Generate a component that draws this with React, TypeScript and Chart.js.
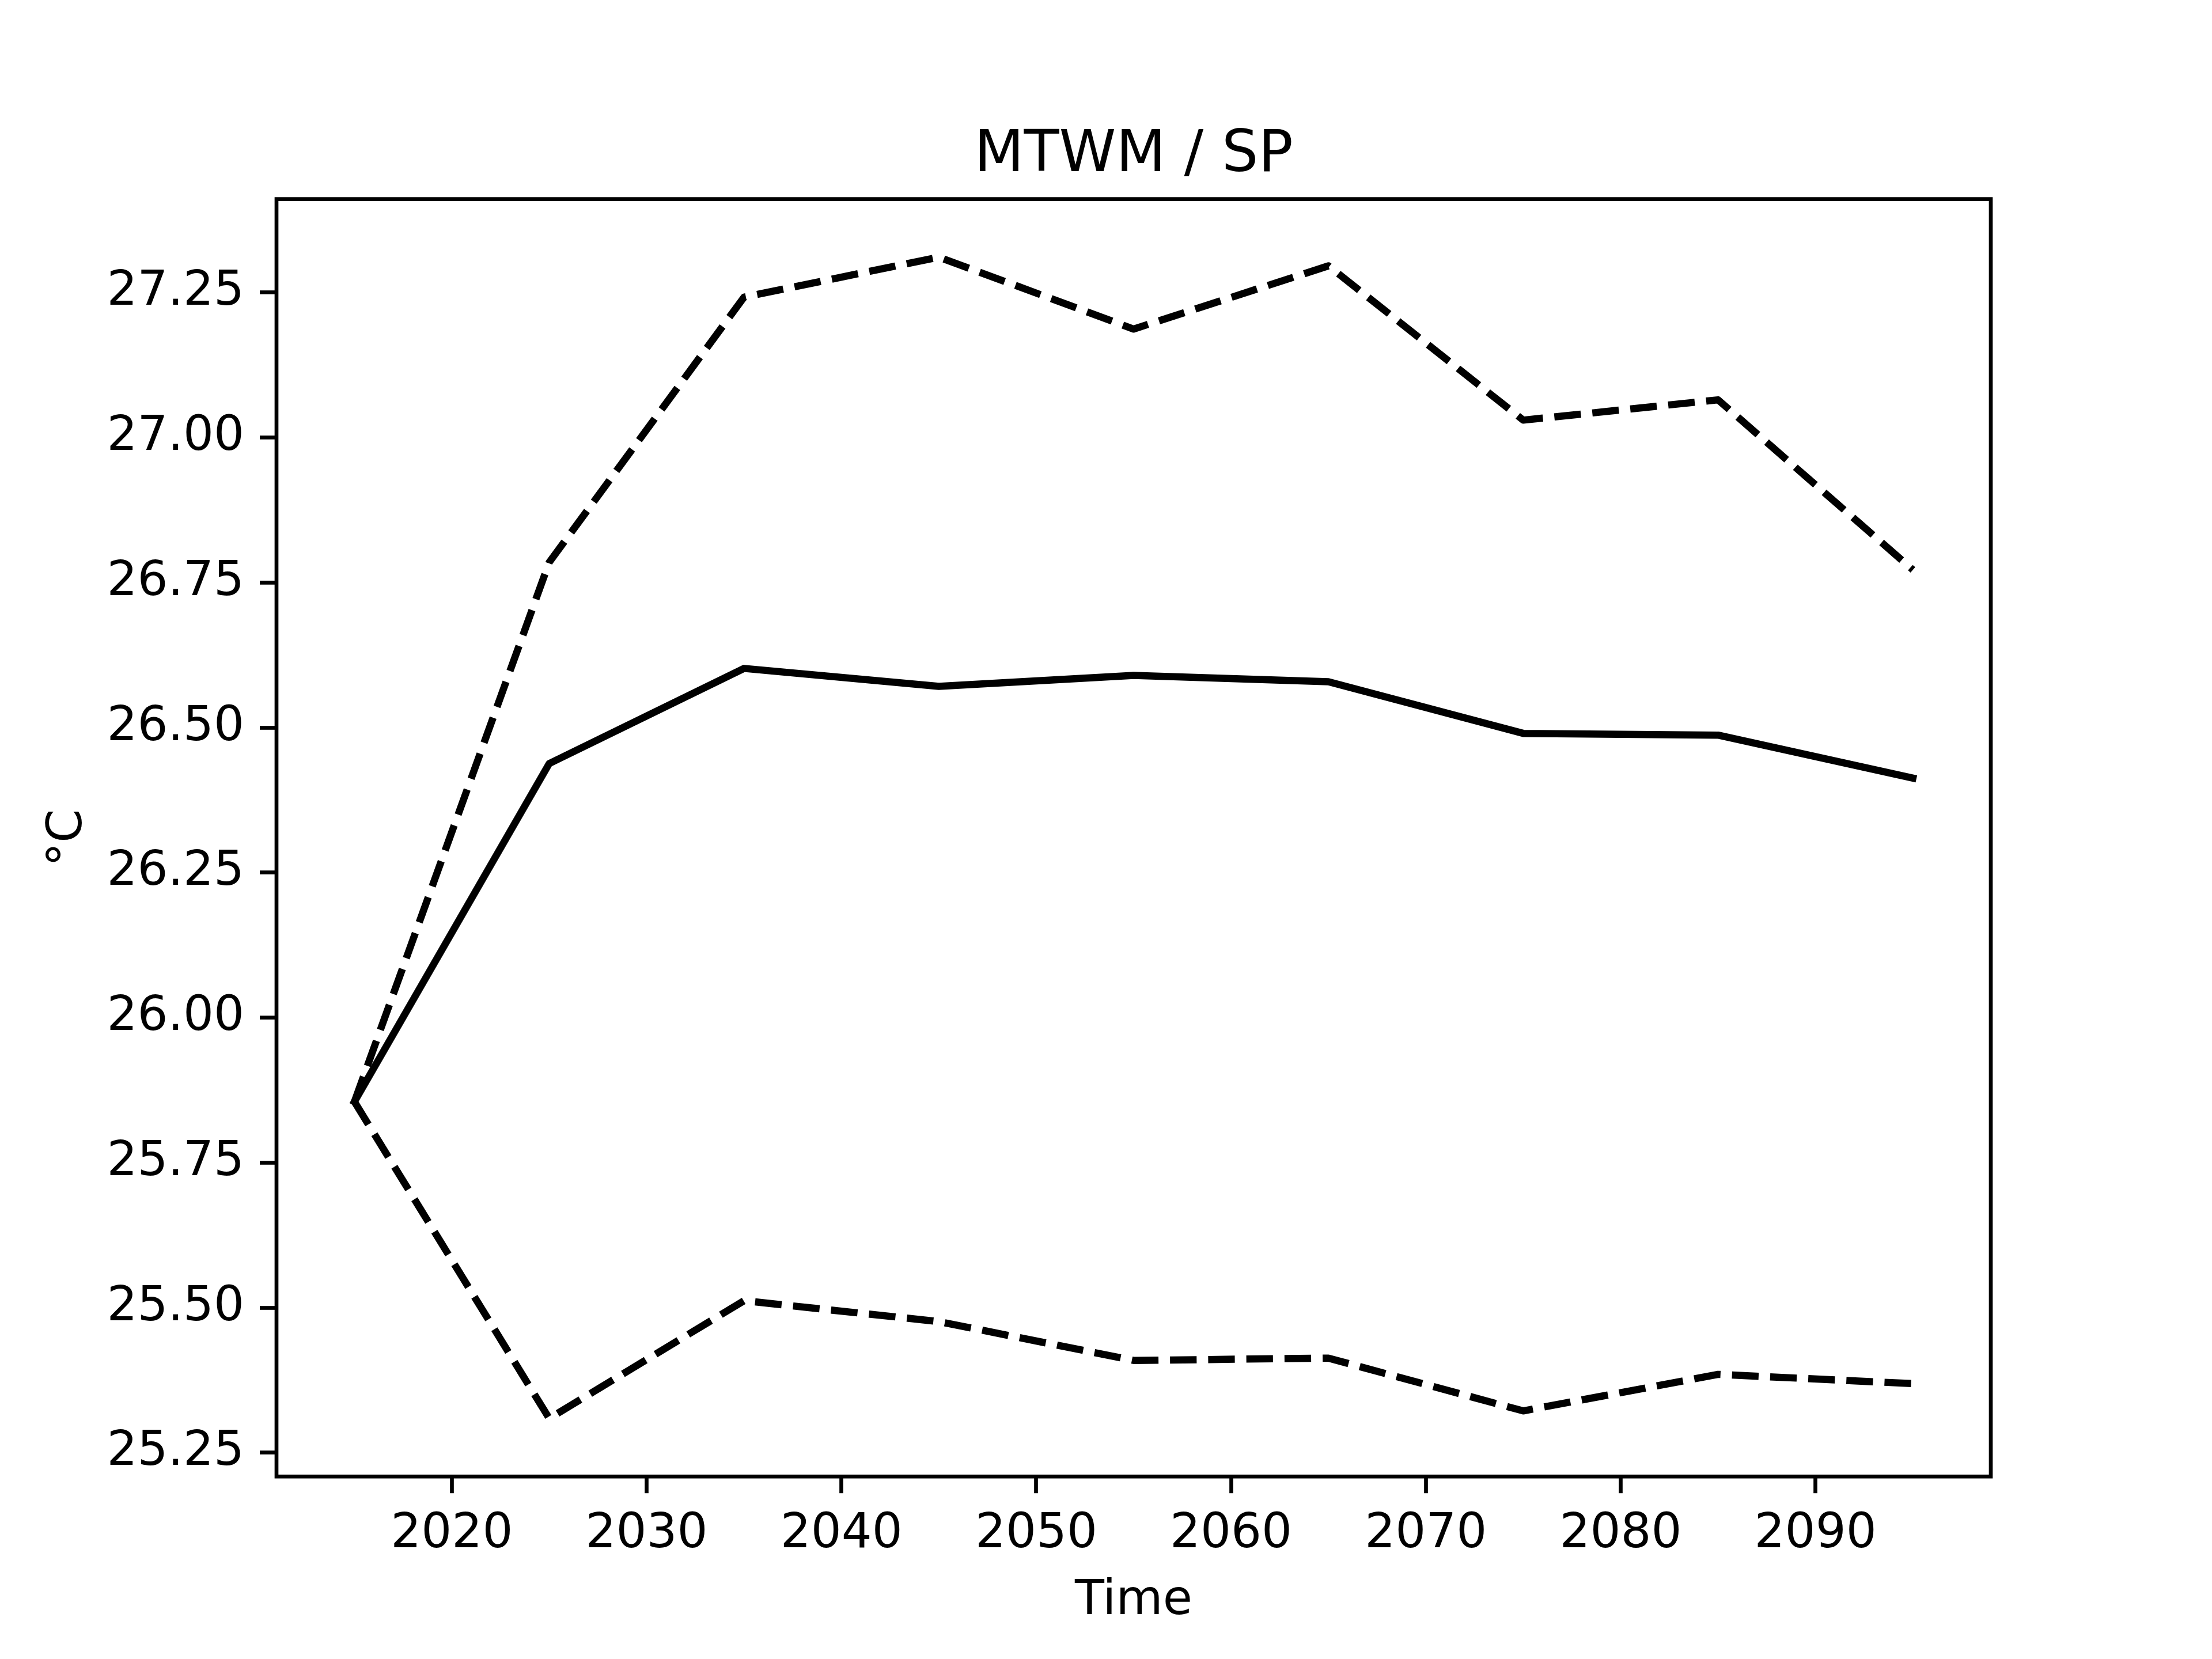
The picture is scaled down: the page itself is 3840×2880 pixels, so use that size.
import React, { useEffect, useRef } from "react";
import { Chart, registerables } from "chart.js";

Chart.register(...registerables);

// ---- data ----
const years = [2015, 2025, 2035, 2045, 2055, 2065, 2075, 2085, 2095];
const meanValues = [25.855, 26.438, 26.602, 26.571, 26.59, 26.579, 26.49, 26.487, 26.413];
const upperValues = [25.855, 26.785, 27.242, 27.311, 27.187, 27.296, 27.03, 27.065, 26.772];
const lowerValues = [25.855, 25.309, 25.512, 25.476, 25.409, 25.413, 25.322, 25.385, 25.369];

const xTickValues = [2020, 2030, 2040, 2050, 2060, 2070, 2080, 2090];
const yTickValues = [25.25, 25.5, 25.75, 26.0, 26.25, 26.5, 26.75, 27.0, 27.25];

const titleText = "MTWM / SP";
const xLabelText = "Time";
const yLabelText = "°C";

// matplotlib-style 5% margins
const allY = [...meanValues, ...upperValues, ...lowerValues];
const yDataMin = Math.min(...allY);
const yDataMax = Math.max(...allY);
const yPad = (yDataMax - yDataMin) * 0.05;
const xDataMin = Math.min(...years);
const xDataMax = Math.max(...years);
const xPad = (xDataMax - xDataMin) * 0.05;

const FONT = "'DejaVu Sans', sans-serif";
const LW = 12.5;
const SPINE = 6.67;

const framePlugin = {
  id: "frame",
  beforeDraw(chart: any) {
    const { ctx } = chart;
    ctx.save();
    ctx.fillStyle = "#ffffff";
    ctx.fillRect(0, 0, chart.width, chart.height);
    ctx.restore();
  },
  afterDraw(chart: any) {
    const { ctx, chartArea: a } = chart;
    ctx.save();
    ctx.strokeStyle = "#000000";
    ctx.lineWidth = SPINE;
    ctx.lineJoin = "miter";
    ctx.strokeRect(a.left, a.top, a.right - a.left, a.bottom - a.top);
    ctx.restore();
  },
};

export default function App() {
  const canvasRef = useRef<HTMLCanvasElement | null>(null);

  useEffect(() => {
    document.body.style.margin = "0";
    const canvas = canvasRef.current;
    if (!canvas) return;
    const toPts = (vals: number[]) => years.map((x, i) => ({ x, y: vals[i] }));
    const chart = new Chart(canvas, {
      type: "line",
      data: {
        datasets: [
          {
            label: "mean",
            data: toPts(meanValues),
            borderColor: "#000000",
            borderWidth: LW,
            borderCapStyle: "square",
            borderJoinStyle: "round",
            pointRadius: 0,
            tension: 0,
            fill: false,
          },
          {
            label: "upper",
            data: toPts(upperValues),
            borderColor: "#000000",
            borderWidth: LW,
            borderDash: [46.25, 20],
            borderCapStyle: "butt",
            borderJoinStyle: "round",
            pointRadius: 0,
            tension: 0,
            fill: false,
          },
          {
            label: "lower",
            data: toPts(lowerValues),
            borderColor: "#000000",
            borderWidth: LW,
            borderDash: [46.25, 20],
            borderCapStyle: "butt",
            borderJoinStyle: "round",
            pointRadius: 0,
            tension: 0,
            fill: false,
          },
        ],
      },
      options: {
        responsive: false,
        animation: false,
        devicePixelRatio: 1,
        layout: { padding: { left: 0, top: 0, right: 384, bottom: 0 } },
        plugins: {
          legend: { display: false },
          tooltip: { enabled: false },
          title: {
            display: true,
            text: titleText,
            fullSize: false,
            color: "#000000",
            font: { family: FONT, size: 100, weight: "normal", lineHeight: 1.2 },
            padding: { top: 211, bottom: 14.6 },
          },
        },
        scales: {
          x: {
            type: "linear",
            min: xDataMin - xPad,
            max: xDataMax + xPad,
            afterFit: (scale: any) => {
              scale.height = 316.8;
            },
            afterBuildTicks: (scale: any) => {
              scale.ticks = xTickValues.map((v) => ({ value: v }));
            },
            ticks: {
              color: "#000000",
              font: { family: FONT, size: 83.33, lineHeight: 1.2 },
              padding: 22,
              maxRotation: 0,
              autoSkip: false,
              callback: (v: any) => String(v),
            },
            grid: {
              display: true,
              drawOnChartArea: false,
              drawTicks: true,
              tickLength: 29,
              tickWidth: SPINE,
              tickColor: "#000000",
            },
            border: { display: false },
            title: {
              display: true,
              text: xLabelText,
              color: "#000000",
              font: { family: FONT, size: 83.33, lineHeight: 1.2 },
              padding: { top: 0, bottom: 50 },
            },
          },
          y: {
            type: "linear",
            min: yDataMin - yPad,
            max: yDataMax + yPad,
            afterFit: (scale: any) => {
              scale.width = 480;
            },
            afterBuildTicks: (scale: any) => {
              scale.ticks = yTickValues.map((v) => ({ value: v }));
            },
            ticks: {
              color: "#000000",
              font: { family: FONT, size: 83.33, lineHeight: 1.2 },
              padding: 27,
              autoSkip: false,
              callback: (v: any) => Number(v).toFixed(2),
            },
            grid: {
              display: true,
              drawOnChartArea: false,
              drawTicks: true,
              tickLength: 29,
              tickWidth: SPINE,
              tickColor: "#000000",
            },
            border: { display: false },
            title: {
              display: true,
              text: yLabelText,
              color: "#000000",
              font: { family: FONT, size: 83.33, lineHeight: 1.2 },
              padding: { top: 69, bottom: 0 },
            },
          },
        },
      } as any,
      plugins: [framePlugin],
    });
    return () => chart.destroy();
  }, []);

  return (
    <div style={{ position: "absolute", left: 0, top: 0, width: 3840, height: 2880 }}>
      <canvas ref={canvasRef} width={3840} height={2880} style={{ width: 3840, height: 2880, display: "block" }} />
    </div>
  );
}
